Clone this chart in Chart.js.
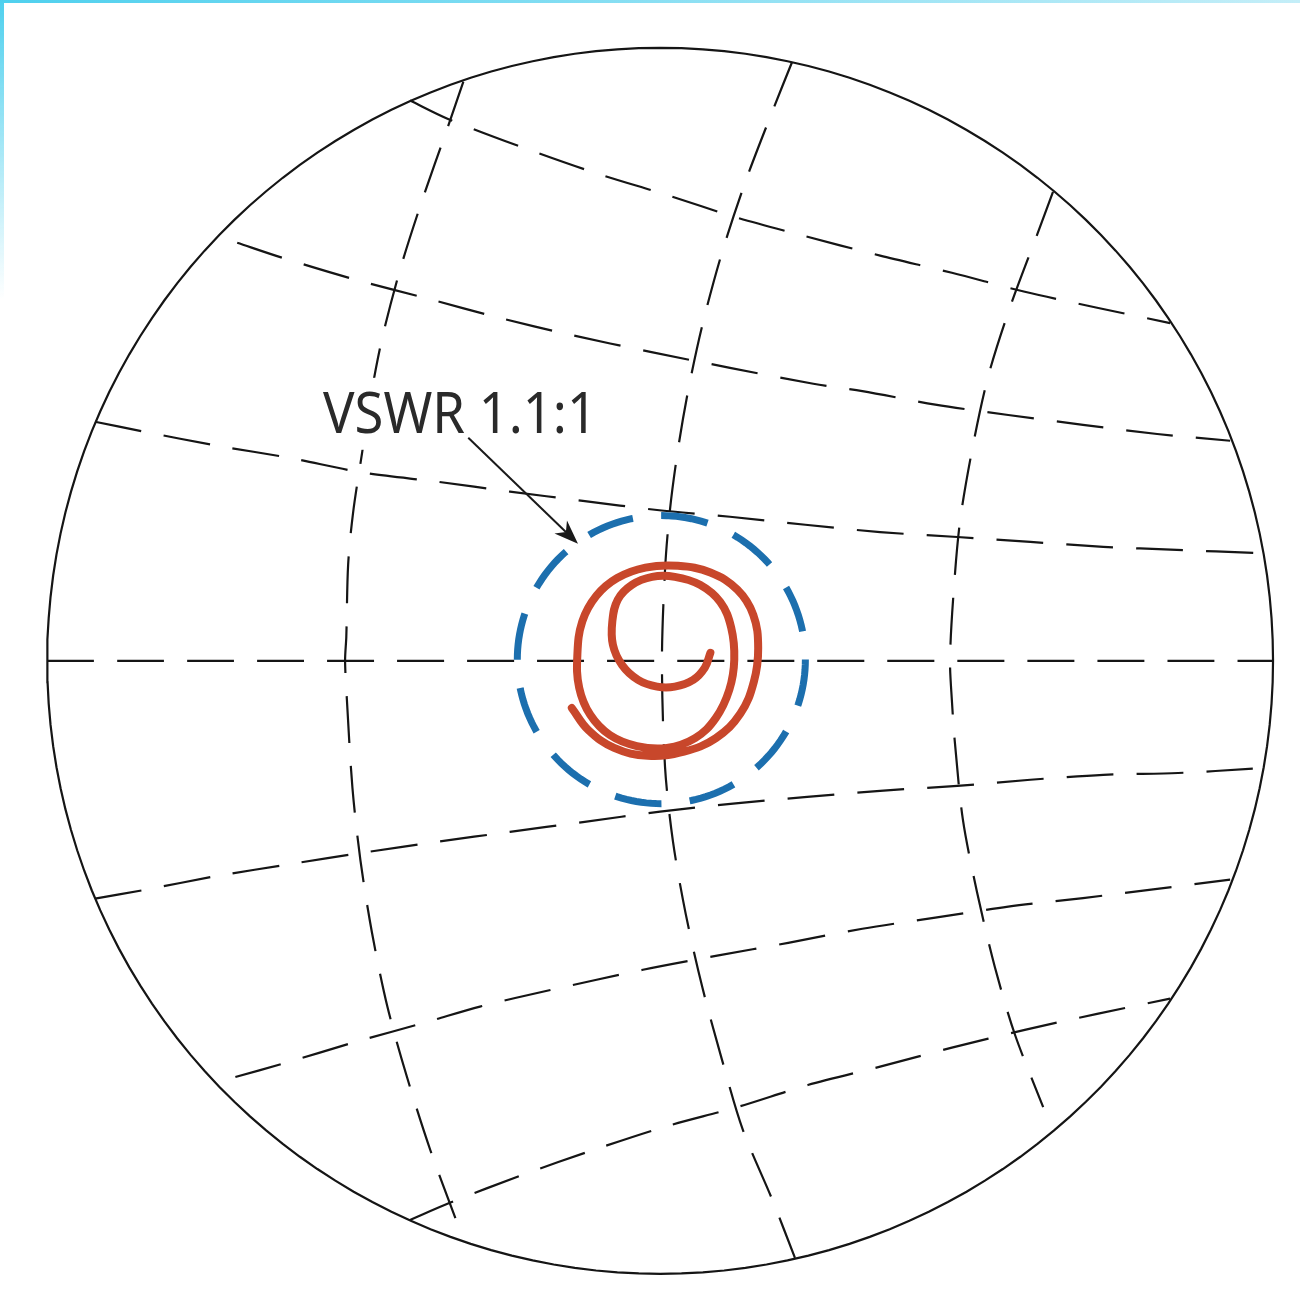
<!DOCTYPE html>
<html>
<head>
<meta charset="utf-8">
<title>VSWR 1.1:1</title>
<script src="https://cdn.jsdelivr.net/npm/chart.js@4.4.1/dist/chart.umd.min.js"></script>
<style>
  html, body { margin: 0; padding: 0; background: #fff; }
  #wrap { position: relative; width: 1300px; height: 1291px; overflow: hidden; }
  #edgeTop { position: absolute; left: 0; top: 0; width: 1300px; height: 3px;
             background: linear-gradient(to right, #4fd0ee, #c4eef8); }
  #edgeLeft { position: absolute; left: 0; top: 0; width: 4px; height: 300px;
              background: linear-gradient(to bottom, #4fd0ee, rgba(255,255,255,0)); }
</style>
</head>
<body>
<div id="wrap">
  <canvas id="chart"></canvas>
  <div id="edgeTop"></div>
  <div id="edgeLeft"></div>
</div>
<script>
// chart plane: origin at the chart centre, outer circle radius = 100
const outerRadius = 100;
const vswrRadius = 23.5;
const vswrCenter = [0.2, 0.2];

// dashed grid rows, top to bottom  [x, y]
const row1 = [[-40.8, 91.4], [-34.6, 88.4], [-22.3, 83.7], [-10.6, 79.6], [1.1, 76.0], [12.2, 72.4],
              [22.8, 69.5], [35.9, 66.1], [47.6, 63.3], [59.5, 60.2], [71.3, 57.6], [83.2, 55.1]];
const row2 = [[-69.0, 68.2], [-61.5, 65.7], [-49.8, 62.2], [-38.0, 59.1], [-26.4, 56.0], [-14.7, 53.2],
              [-1.6, 50.4], [11.4, 47.8], [25.0, 45.2], [33.0, 44.0], [44.9, 41.8], [56.8, 40.1],
              [69.0, 38.5], [81.1, 37.0], [93.0, 35.9]];
const row3 = [[-92.2, 39.0], [-84.3, 37.4], [-72.3, 35.1], [-60.4, 33.1], [-48.5, 30.7], [-36.2, 29.2],
              [-24.5, 27.6], [-12.6, 26.1], [-0.5, 24.6], [11.4, 23.5], [23.7, 22.2], [35.9, 21.0],
              [48.5, 20.2], [60.4, 19.4], [72.3, 18.6], [84.3, 18.1], [97.1, 17.6]];
const row4 = [[-100, 0], [100, 0]];
const row5 = [[-92.2, -38.8], [-84.3, -37.4], [-72.3, -35.1], [-60.0, -33.1], [-48.5, -31.3], [-36.2, -29.5],
              [-24.5, -27.9], [-12.6, -26.3], [0, -24.6], [11.9, -23.3], [24.0, -22.2], [35.9, -21.2],
              [48.5, -20.4], [60.4, -19.4], [72.3, -18.6], [84.5, -18.3], [96.7, -17.6]];
const row6 = [[-69.3, -67.9], [-61.5, -65.7], [-49.8, -62.2], [-38.0, -58.9], [-29.4, -56.4], [-17.9, -53.7],
              [-2.8, -50.4], [9.3, -48.1], [20.9, -46.0], [33.0, -43.7], [44.9, -41.9], [56.8, -40.1],
              [69.0, -38.7], [81.1, -37.2], [93.0, -35.7]];
const row7 = [[-40.8, -91.2], [-34.3, -88.4], [-22.3, -83.8], [-10.9, -79.8], [0.8, -76.0], [12.6, -72.8],
              [24.1, -69.2], [35.9, -66.2], [47.6, -63.1], [59.5, -60.2], [71.3, -57.6], [83.2, -55.1]];

// dashed grid columns, left to right
const col1 = [[-32.1, 94.5], [-34.7, 86.9], [-38.8, 75.2], [-42.4, 63.9], [-45.4, 52.4], [-47.3, 42.6],
              [-48.6, 34.1], [-50.1, 24.1], [-50.9, 15.7], [-51.2, 3.9], [-51.4, 0], [-51.1, -6.4],
              [-50.2, -20.7], [-48.9, -32.5], [-47.0, -44.4], [-44.5, -56.4], [-41.3, -67.9],
              [-37.5, -79.8], [-33.4, -90.9]];
const col2 = [[21.5, 97.6], [18.3, 89.6], [13.9, 78.1], [10.1, 66.6], [6.9, 54.8], [4.6, 44.2],
              [2.9, 34.4], [1.6, 24.6], [0.8, 14.8], [0.3, 0], [0.8, -17.3], [2.1, -29.5],
              [4.2, -41.4], [6.9, -53.3], [10.1, -65.1], [13.5, -76.5], [18.3, -87.9], [22.0, -97.4]];
const col3 = [[64.1, 76.5], [61.5, 69.5], [57.1, 57.7], [53.5, 46.3], [50.9, 34.4], [48.9, 22.5],
              [47.8, 10.0], [47.3, 0], [47.6, -6.4], [48.1, -13.4], [49.4, -25.9], [51.7, -37.7],
              [54.6, -49.9], [57.9, -61.0], [62.5, -72.8]];

// measured response trace (spiral), from the inner end outwards
const spiral = [[8.2, 1.3], [7.3, -1.1], [5.4, -3.1], [2.4, -4.2], [-0.5, -4.2], [-3.6, -3.1], [-6.2, -0.7],
                [-7.7, 2.6], [-7.8, 6.4], [-6.9, 10.0], [-4.6, 12.4], [-1.3, 13.7], [2.4, 13.7], [6.5, 12.4],
                [9.8, 9.6], [11.6, 5.4], [12.1, 0.2], [11.3, -4.7], [9.1, -9.3], [5.7, -12.6], [1.1, -14.2],
                [-3.8, -13.9], [-8.2, -12.1], [-11.4, -8.8], [-13.2, -4.4], [-13.5, 1.0], [-12.7, 6.4],
                [-10.4, 10.6], [-7.0, 13.5], [-2.4, 15.2], [2.9, 15.5], [8.2, 14.4], [12.6, 11.6],
                [15.2, 7.5], [16.0, 2.1], [15.3, -3.4], [13.1, -8.6], [9.1, -12.6], [3.9, -14.8],
                [-2.0, -15.5], [-7.5, -14.2], [-11.7, -11.3], [-14.4, -7.7]];

// label and arrow (chart plane)
const labelText = 'VSWR 1.1:1';
const labelSpanX = [-55.0, -10.3];
const labelBaseY = 37.2;
const arrowFrom = [-31.3, 36.4];
const arrowTo = [-13.4, 19.1];

const viewX = [-107.7, 104.4];
const viewY = [-102.8, 107.8];

function toXY(list) {
    return list.map(p => ({ x: p[0], y: p[1] }));
}

// circle traced clockwise from the top
function ringPoints(cx, cy, r) {
    const pts = [];
    for (let i = 0; i <= 360; i += 2) {
        const a = (90 - i) * Math.PI / 180;
        pts.push({ x: cx + r * Math.cos(a), y: cy + r * Math.sin(a) });
    }
    return pts;
}

function gridLine(list) {
    return {
        data: toXY(list),
        showLine: true,
        pointRadius: 0,
        borderColor: '#151515',
        borderWidth: 2.2,
        borderDash: [47, 23],
        tension: 0.3,
        order: 5
    };
}

const labelPlugin = {
    id: 'vswrLabel',
    afterDatasetsDraw(chart) {
        const { ctx } = chart;
        const sx = chart.scales.x, sy = chart.scales.y;
        const left = sx.getPixelForValue(labelSpanX[0]);
        const right = sx.getPixelForValue(labelSpanX[1]);
        const base = sy.getPixelForValue(labelBaseY);
        ctx.save();
        // white knockout behind the text
        ctx.fillStyle = '#fff';
        ctx.fillRect(left - 6, base - 55, right - left + 12, 72);

        ctx.font = '57px "Noto Sans", "Open Sans", sans-serif';
        ctx.textBaseline = 'alphabetic';
        ctx.textAlign = 'left';
        const w = ctx.measureText(labelText).width;
        ctx.translate(left, base);
        ctx.scale((right - left) / w, 1);
        ctx.fillStyle = '#2a2a2a';
        ctx.fillText(labelText, 0, 0);
        ctx.restore();

        // arrow
        const x0 = sx.getPixelForValue(arrowFrom[0]), y0 = sy.getPixelForValue(arrowFrom[1]);
        const x1 = sx.getPixelForValue(arrowTo[0]), y1 = sy.getPixelForValue(arrowTo[1]);
        const ang = Math.atan2(y1 - y0, x1 - x0);
        const headLen = 24, headW = 9;
        ctx.save();
        ctx.strokeStyle = '#1a1a1a';
        ctx.fillStyle = '#1a1a1a';
        ctx.lineWidth = 2;
        ctx.beginPath();
        ctx.moveTo(x0, y0);
        ctx.lineTo(x1 - Math.cos(ang) * headLen * 0.7, y1 - Math.sin(ang) * headLen * 0.7);
        ctx.stroke();
        ctx.translate(x1, y1);
        ctx.rotate(ang);
        ctx.beginPath();
        ctx.moveTo(0, 0);
        ctx.lineTo(-headLen, -headW);
        ctx.lineTo(-headLen * 0.7, 0);
        ctx.lineTo(-headLen, headW);
        ctx.closePath();
        ctx.fill();
        ctx.restore();
    }
};

const datasets = [row1, row2, row3, row4, row5, row6, row7, col1, col2, col3].map(gridLine);
datasets.push({
    data: ringPoints(0, 0, outerRadius),
    showLine: true, pointRadius: 0,
    borderColor: '#151515', borderWidth: 2.2, tension: 0, order: 4
});
datasets.push({
    data: ringPoints(vswrCenter[0], vswrCenter[1], vswrRadius),
    showLine: true, pointRadius: 0,
    borderColor: '#1c6fae', borderWidth: 7, borderDash: [47, 28.4], tension: 0, order: 2
});
datasets.push({
    data: toXY(spiral),
    showLine: true, pointRadius: 0,
    borderColor: '#c8472b', borderWidth: 8, borderCapStyle: 'round', borderJoinStyle: 'round',
    tension: 0.4, order: 1
});

new Chart(document.getElementById('chart'), {
    type: 'scatter',
    data: { datasets: datasets },
    options: {
        responsive: true,
        maintainAspectRatio: false,
        animation: false,
        events: [],
        layout: { padding: 0 },
        plugins: { legend: { display: false }, tooltip: { enabled: false } },
        scales: {
            x: { type: 'linear', min: viewX[0], max: viewX[1], display: false },
            y: { type: 'linear', min: viewY[0], max: viewY[1], display: false }
        }
    },
    plugins: [labelPlugin]
});
</script>
</body>
</html>
